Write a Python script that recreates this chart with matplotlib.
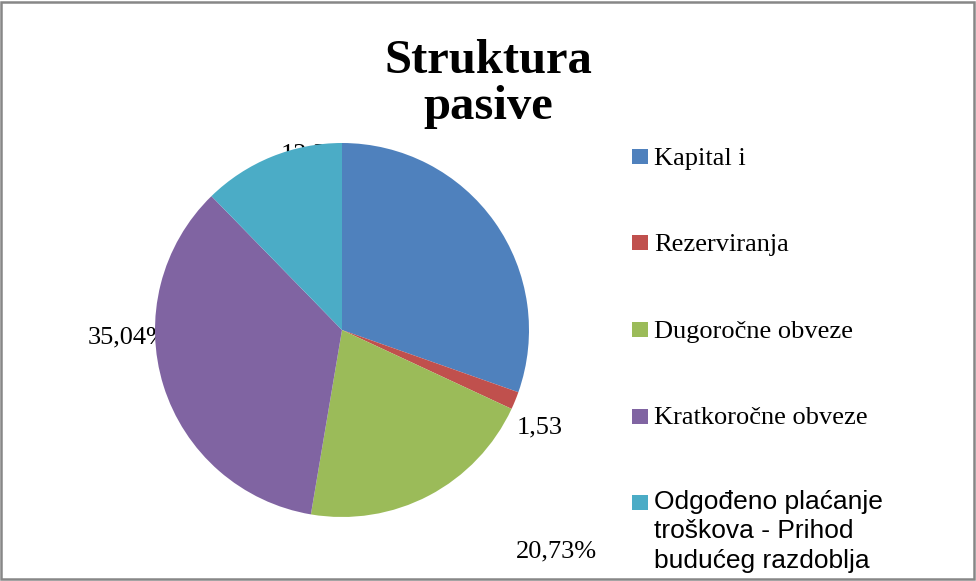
import numpy as np
import matplotlib.pyplot as plt
from matplotlib.patches import Rectangle

# Struktura pasive - podaci
kategorije = ["Kapital i", "Rezerviranja", "Dugoročne obveze", "Kratkoročne obveze",
              "Odgođeno plaćanje\ntroškova - Prihod\nbudućeg razdoblja"]
udjeli = [30.40, 1.53, 20.73, 35.04, 12.30]
oznake = [None, "1,53", "20,73%", "35,04%", "12,30%"]
boje = ["#4F81BD", "#C0504D", "#9BBB59", "#8064A2", "#4BACC6"]

# položaj oznaka (radijus, kut u stupnjevima) kao u Excelu
polozaj_oznaka = [None, (1.18, -26.3), (1.65, -46.0), (1.145, 182.0), (0.945, 96.6)]

W, H = 976, 581
fig = plt.figure(figsize=(W / 100, H / 100), dpi=100)
fig.patch.set_facecolor("white")

# okvir grafikona
fig.patches.append(Rectangle((1 / W, 2 / H), 1 - 3 / W, 1 - 4 / H, transform=fig.transFigure,
                             fill=False, edgecolor="#878787", linewidth=1.8))

# naslov
fig.text(488 / W, 1 - 84 / H, "Struktura\npasive", ha="center", va="center",
         fontsize=35, fontweight="bold", family="Liberation Serif", linespacing=1.07)

# pita
cx, cy, r = 342, 330, 187
ax = fig.add_axes([(cx - r) / W, (H - cy - r) / H, 2 * r / W, 2 * r / H])
wedges, _ = ax.pie(udjeli, colors=boje, startangle=90, counterclock=False, radius=1,
                   wedgeprops=dict(linewidth=0, zorder=3))
ax.set_xlim(-1, 1)
ax.set_ylim(-1, 1)
ax.set_aspect("equal")
ax.axis("off")

for txt, pos in zip(oznake, polozaj_oznaka):
    if txt is None:
        continue
    rr, kut = pos
    x = rr * np.cos(np.radians(kut))
    y = rr * np.sin(np.radians(kut))
    ax.text(x, y, txt, ha="center", va="center", fontsize=19,
            family="Liberation Serif", zorder=1, clip_on=False)

# legenda
leg_x, leg_y0, korak = 632, 149, 86.5
for i, (kat, boja) in enumerate(zip(kategorije, boje)):
    y_top = leg_y0 + i * korak
    fig.patches.append(Rectangle((leg_x / W, 1 - (y_top + 15) / H), 16 / W, 15 / H,
                                 transform=fig.transFigure, facecolor=boja, edgecolor="none"))
    if "\n" in kat:
        fig.text(654 / W, 1 - (y_top - 5) / H, kat, ha="left", va="top",
                 fontsize=19, family="Liberation Sans", linespacing=1.28)
    else:
        fig.text(654 / W, 1 - (y_top + 16) / H, kat, ha="left", va="baseline",
                 fontsize=19, family="Liberation Serif")

fig.savefig("out.png", dpi=100)
